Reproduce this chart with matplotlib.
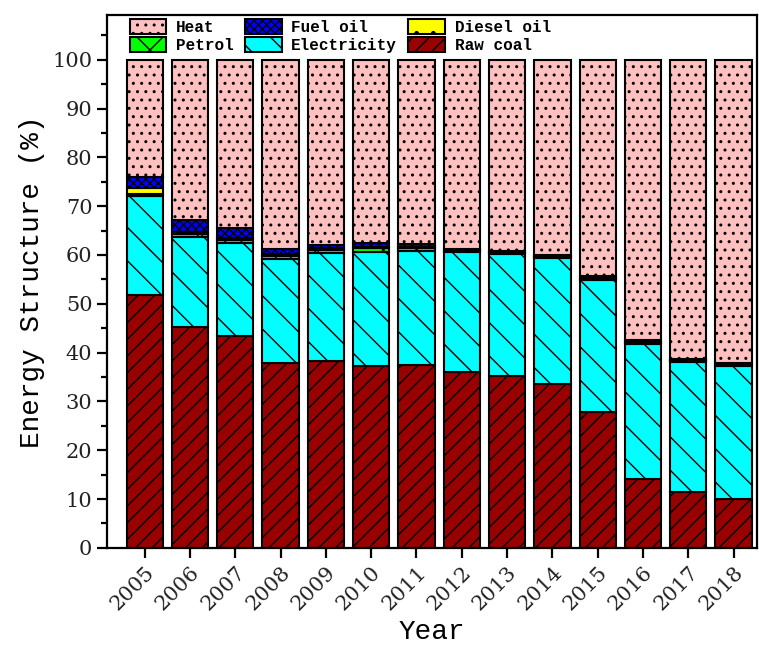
import matplotlib.pyplot as plt
from matplotlib.ticker import MultipleLocator
import numpy as np

# dados (%)
years = ['2005', '2006', '2007', '2008', '2009', '2010', '2011',
         '2012', '2013', '2014', '2015', '2016', '2017', '2018']
raw_coal = [51.7, 45.2, 43.5, 37.8, 38.2, 37.2, 37.5, 36.1, 35.3, 33.5, 27.9, 14.2, 11.5, 10.0]
electricity = [20.4, 18.4, 18.9, 21.4, 22.2, 23.5, 23.4, 24.5, 24.8, 25.8, 26.9, 27.5, 26.5, 27.2]
petrol = [0.4, 0.6, 0.6, 0.6, 0.7, 0.7, 0.5, 0.3, 0.3, 0.3, 0.3, 0.3, 0.2, 0.2]
diesel_oil = [1.2, 0.6, 0.4, 0.4, 0.3, 0.3, 0.3, 0.2, 0.2, 0.1, 0.2, 0.2, 0.2, 0.1]
fuel_oil = [2.2, 2.3, 2.2, 1.1, 0.6, 0.7, 0.5, 0.2, 0.3, 0.3, 0.3, 0.3, 0.3, 0.3]
heat = [24.1, 32.9, 34.4, 38.7, 38.0, 37.6, 37.8, 38.7, 39.1, 40.0, 44.4, 57.5, 61.3, 62.2]

series = [
    ('Raw coal', raw_coal, '#990000', '//'),
    ('Electricity', electricity, '#00FFFF', '\\'),
    ('Petrol', petrol, '#00FF00', 'x'),
    ('Diesel oil', diesel_oil, '#FFFF00', '.'),
    ('Fuel oil', fuel_oil, '#0000FF', 'xxxx'),
    ('Heat', heat, '#FFC0C0', '..'),
]

plt.rcParams['hatch.linewidth'] = 1.0

fig = plt.figure(figsize=(7.59, 6.46), dpi=100)
ax = fig.add_axes([0.141, 0.152, 0.856, 0.825])

x = np.arange(len(years))
bottom = np.zeros(len(years))
handles = {}
for name, vals, color, hatch in series:
    b = ax.bar(x, vals, width=0.8, bottom=bottom, color=color, edgecolor='black',
               linewidth=1.5, hatch=hatch, label=name)
    handles[name] = b
    bottom += np.array(vals)

ax.set_xlim(-0.83, 13.51)
ax.set_ylim(0, 109.2)
ax.yaxis.set_major_locator(MultipleLocator(10))
ax.yaxis.set_minor_locator(MultipleLocator(5))
ax.set_yticks(np.arange(0, 101, 10))
ax.set_xticks(x)
ax.set_xticklabels(years, rotation=45, ha='right', rotation_mode='anchor')

for s in ax.spines.values():
    s.set_linewidth(1.6)
ax.tick_params(axis='both', which='major', direction='out', length=7, width=1.6,
               labelsize=15)
ax.tick_params(axis='y', which='minor', direction='out', length=4, width=1.6)
for lab in ax.get_xticklabels() + ax.get_yticklabels():
    lab.set_family('DejaVu Serif')
    lab.set_color('#222222')

ax.set_xlabel('Year', family='Liberation Mono', fontsize=20, labelpad=4)
ax.set_ylabel('Energy Structure (%)', family='Liberation Mono', fontsize=20, labelpad=5)

order = ['Heat', 'Petrol', 'Fuel oil', 'Electricity', 'Diesel oil', 'Raw coal']
ax.legend([handles[n] for n in order], order, ncol=3, loc='upper left',
          bbox_to_anchor=(0.02, 1.01), frameon=False,
          prop={'family': 'Liberation Mono', 'weight': 'bold', 'size': 11.5},
          handlelength=2.3, handleheight=1.05, handletextpad=0.6,
          columnspacing=0.7, labelspacing=0.12, borderaxespad=0.2)

fig.savefig('out.png', dpi=100)
